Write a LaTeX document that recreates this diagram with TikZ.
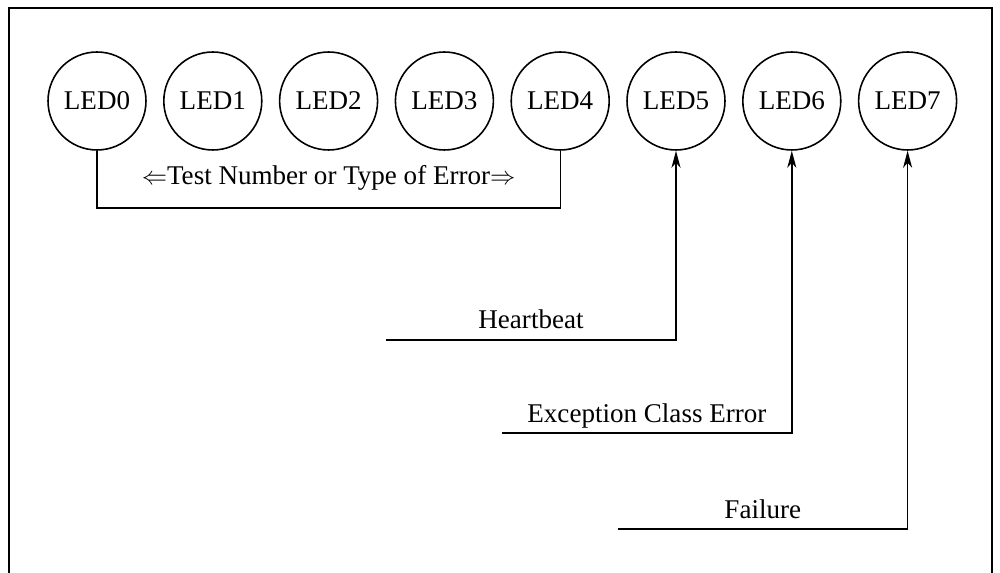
\documentclass[tikz,border=0pt]{standalone}
\usepackage{fontspec}
\setmainfont{Liberation Serif}
\usetikzlibrary{arrows.meta}

\begin{document}
\begin{tikzpicture}[x=0.02cm, y=-0.02cm,
		every node/.style={font=\fontsize{15.4pt}{18pt}\selectfont},
		led/.style={draw, circle, line width=0.9pt, minimum size=1.96cm, inner sep=0pt},
		wire/.style={line width=0.8pt},
		sig/.style={wire, -{Stealth[length=3.4mm, width=1.8mm, inset=1mm]}},
		lbl/.style={anchor=base, yshift=#1}, lbl/.default=0.22cm]
		%%%%% START %%%%%
		
		\useasboundingbox (0, 0) rectangle (1000, 573);
		\draw[line width=1pt] (9, 573) -- (9, 8) -- (992, 8) -- (992, 573);
		
		\foreach \i in {0,...,7}
			\node[led] (led\i) at ({97 + 115.8*\i}, 101) {LED\i};
		
		\coordinate (brk) at (0, 208);
		\draw[wire] (led0.south) -- (led0.south |- brk)
			-- node[lbl=0.46cm] {$\Leftarrow$Test Number or Type of Error$\Rightarrow$} (led4.south |- brk)
			-- (led4.south);
		
		\coordinate (hb) at (386, 340);
		\coordinate (exc) at (502, 433);
		\coordinate (fail) at (618, 529);
		
		\draw[sig] (hb) -- node[lbl] {Heartbeat} (hb -| led5) -- (led5.south);
		\draw[sig] (exc) -- node[lbl] {Exception Class Error} (exc -| led6) -- (led6.south);
		\draw[sig] (fail) -- node[lbl] {Failure} (fail -| led7) -- (led7.south);
		
		%%%%% END %%%%%
	\end{tikzpicture}
\end{document}
